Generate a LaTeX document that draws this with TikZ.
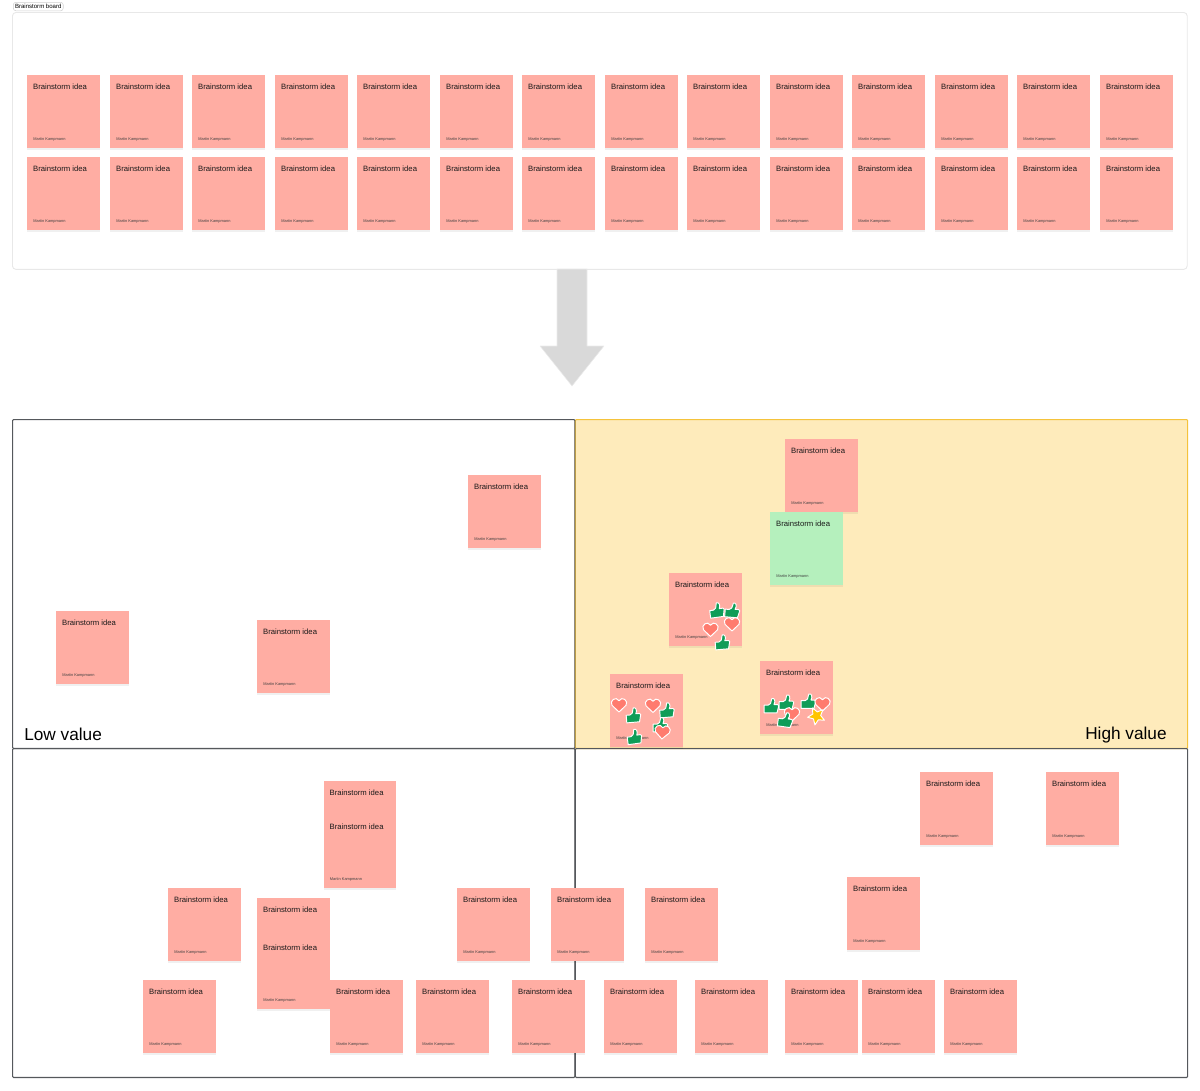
\documentclass[tikz,border=0pt]{standalone}
\usepackage{fontspec}
\setmainfont{Liberation Sans}
\usetikzlibrary{shadows}
\definecolor{salmon}{HTML}{FFADA3}
\definecolor{mint}{HTML}{B5F0BD}
\definecolor{framegray}{HTML}{55585C}
\definecolor{boardline}{HTML}{E8E8E8}
\definecolor{amberfill}{HTML}{FEEBBB}
\definecolor{amberline}{HTML}{F5C33B}
\definecolor{arrowgray}{HTML}{D9D9D9}
\definecolor{thumbgreen}{HTML}{0F9D58}
\definecolor{heartred}{HTML}{FF7B6E}
\definecolor{staryellow}{HTML}{FFC400}
\tikzset{
  softshadow/.style={drop shadow={shadow xshift=0pt,shadow yshift=-0.03cm,opacity=.06,fill=black}},
  note/.style={anchor=north west,inner sep=0pt,minimum width=1.45cm,fill=salmon,softshadow},
  notetitle/.style={anchor=west,inner sep=0pt,font=\fontsize{4.38}{5}\selectfont,text=black!90},
  noteauthor/.style={anchor=west,inner sep=0pt,font=\fontsize{2.24}{3}\selectfont,text=black!75},
  quadrant/.style={anchor=north west,inner sep=0pt,draw=framegray,line width=0.6pt,rounded corners=0.6pt},
  quadlabel/.style={inner sep=0pt,font=\fontsize{9.8}{12}\selectfont,text=black},
  sticker/.style={line join=round,draw=white,line width=0.55pt,fill=#1},
  thumb/.pic={\path[sticker=thumbgreen] (-6.8,-0.8) -- (-3,-0.8) -- (-0.5,-2.5) -- (0.8,-7.5)
      .. controls (3.5,-8.5) and (4.8,-5) .. (3,-1.5) -- (6.5,-1.5) .. controls (8,-1.5) and (8,0.5) .. (7.3,1.5)
      -- (6,6.8) -- (-6.8,6.8) -- cycle;},
  heart/.pic={\path[sticker=heartred] (0,7.5) -- (-7,0.8) .. controls (-10,-3.5) and (-3,-9) .. (0,-3.8)
      .. controls (3,-9) and (10,-3.5) .. (7,0.8) -- cycle;},
  star/.pic={\path[sticker=staryellow] (90:9) -- (126:4.2) -- (162:9) -- (198:4.2) -- (234:9)
      -- (270:4.2) -- (306:9) -- (342:4.2) -- (18:9) -- (54:4.2) -- cycle;},
}
% \stickynote{name}{left}{top}{height}{colour}
\newcommand{\stickynote}[5]{%
  \node[note,fill=#5,minimum height=#4*0.02cm] (#1) at (#2,#3) {};
  \node[notetitle] (#1t) at (#2+5.8,#3+11.5) {Brainstorm idea};
  \node[noteauthor] (#1a) at (#2+6,#3+#4-8.2) {Martin Kampmann};
}
\begin{document}
\begin{tikzpicture}[x=0.02cm,y=-0.02cm]
\useasboundingbox (0,0) rectangle (1200,1090);
% board
\node[anchor=north west,inner sep=0pt,minimum width=23.5cm,minimum height=5.14cm,draw=boardline,line width=0.5pt,rounded corners=2pt,fill=white] (board) at (12,12) {};
\node[anchor=north west,inner sep=0pt,minimum width=1.0cm,minimum height=0.17cm,draw=black!18,line width=0.3pt,rounded corners=1.5pt,fill=white,font=\fontsize{3.45}{4}\selectfont,text=black] (boardlabel) at (13,2) {Brainstorm board};
\foreach \c/\nx in {1/27,2/110,3/192,4/275,5/357,6/440,7/522,8/605,9/687,10/770,11/852,12/935,13/1017,14/1100}{
  \stickynote{a\c}{\nx}{75}{73}{salmon}
  \stickynote{b\c}{\nx}{157}{73}{salmon}
}
% block arrow
\fill[arrowgray,draw=white!92!black,line width=0.3pt,line join=round] (557,269) -- (587,269) -- (587,346) -- (604,346) -- (572,386) -- (540,346) -- (557,346) -- cycle;
% quadrants
\node[quadrant,minimum width=12.25cm,minimum height=6.58cm,draw=amberline,fill=amberfill] (qhigh) at (574.7,419) {};
\node[quadrant,minimum width=11.25cm,minimum height=6.58cm] (qlow) at (12,419) {};
\node[quadrant,minimum width=11.25cm,minimum height=6.58cm] (qbl) at (12,748) {};
\node[quadrant,minimum width=12.25cm,minimum height=6.58cm] (qbr) at (574.7,748) {};
\node[quadlabel,anchor=west] (lowlabel) at (24,734.5) {Low value};
\node[quadlabel,anchor=east] (highlabel) at (1167,735) {High value};
% notes upper
\stickynote{c1}{468}{475}{73}{salmon}
\stickynote{c2}{56}{611}{73}{salmon}
\stickynote{c3}{257}{620}{73}{salmon}
\stickynote{c4}{785}{439}{73}{salmon}
\stickynote{c5}{770}{512}{73}{mint}
\stickynote{c6}{669}{573}{73}{salmon}
\stickynote{c7}{610}{674}{73}{salmon}
\stickynote{c8}{760}{661}{73}{salmon}
% notes lower
\stickynote{d1}{323.5}{781}{107}{salmon}
\node[notetitle] (d1u) at (329.3,827) {Brainstorm idea};
\stickynote{d2}{168}{888}{73}{salmon}
\stickynote{d3}{257}{898}{111}{salmon}
\node[notetitle] (d3u) at (262.8,948) {Brainstorm idea};
\stickynote{d4}{457}{888}{73}{salmon}
\stickynote{d5}{551}{888}{73}{salmon}
\stickynote{d6}{645}{888}{73}{salmon}
\stickynote{d7}{143}{980}{73}{salmon}
\stickynote{d8}{330}{980}{73}{salmon}
\stickynote{d9}{416}{980}{73}{salmon}
\stickynote{d10}{512}{980}{73}{salmon}
\stickynote{d11}{604}{980}{73}{salmon}
\stickynote{d12}{695}{980}{73}{salmon}
\stickynote{d13}{785}{980}{73}{salmon}
\stickynote{d14}{862}{980}{73}{salmon}
\stickynote{d15}{944}{980}{73}{salmon}
\stickynote{d16}{920}{772}{73}{salmon}
\stickynote{d17}{1046}{772}{73}{salmon}
\stickynote{d18}{847}{877}{73}{salmon}
% stickers
\path (716.5,610.5) pic[rotate=8] {thumb};
\path (732,610.5) pic[rotate=-5] {thumb};
\path (722,642.5) pic[rotate=5] {thumb};
\path (710.5,629) pic[rotate=0] {heart};
\path (732,623.5) pic[rotate=0] {heart};
\path (633,715.5) pic[rotate=5] {thumb};
\path (666.5,710.5) pic[rotate=5] {thumb};
\path (660,725) pic[rotate=0] {thumb};
\path (619,704.5) pic[rotate=0] {heart};
\path (653,705) pic[rotate=0] {heart};
\path (662.5,731.5) pic[rotate=-5] {heart};
\path (634,737) pic[rotate=8] {thumb};
\path (771,706) pic[rotate=0] {thumb};
\path (786,702.5) pic[rotate=0] {thumb};
\path (808,701.5) pic[rotate=0] {thumb};
\path (822.5,703.5) pic[rotate=0] {heart};
\path (792,713.5) pic[rotate=0] {heart};
\path (785,720) pic[rotate=-8] {thumb};
\path (816.5,716) pic[rotate=-10] {star};
\end{tikzpicture}
\end{document}
